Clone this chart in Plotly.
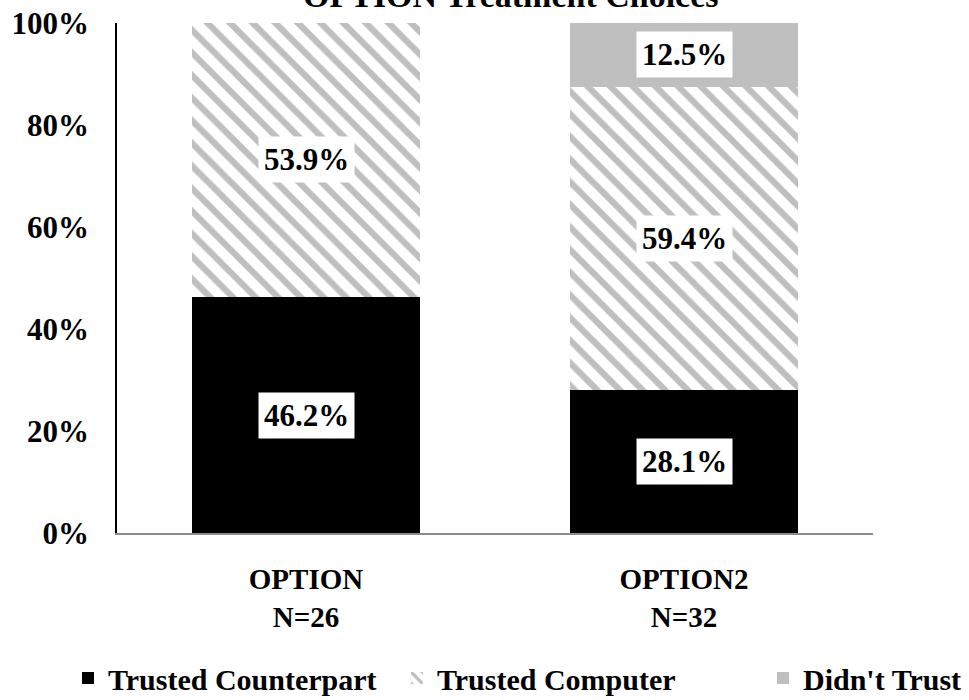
import plotly.graph_objects as go

categories = ["OPTION<br>N=26", "OPTION2<br>N=32"]
trusted_counterpart = [46.2, 28.1]
trusted_computer = [53.9, 59.4]
didnt_trust = [0.0, 12.5]
tick_vals = [0, 20, 40, 60, 80, 100]
tick_text = ["0%", "20%", "40%", "60%", "80%", "100%"]

FONT = "Liberation Serif, Times New Roman, serif"
W, H = 969, 700

fig = go.Figure()
fig.add_trace(go.Bar(
    x=categories, y=trusted_counterpart, name="Trusted Counterpart",
    marker=dict(color="black", line=dict(width=0)), legend="legend",
))
fig.add_trace(go.Bar(
    x=categories, y=trusted_computer, name="Trusted Computer",
    marker=dict(color="white", line=dict(width=0),
                pattern=dict(shape="\\", fgcolor="#808080", bgcolor="white",
                             size=16, solidity=0.4)),
    legend="legend2",
))
fig.add_trace(go.Bar(
    x=categories, y=didnt_trust, name="Didn't Trust",
    marker=dict(color="#bfbfbf", line=dict(width=0)), legend="legend3",
))

# value labels in white boxes, centred in each segment
series = [trusted_counterpart, trusted_computer, didnt_trust]
for i, cat in enumerate(categories):
    base = 0.0
    for vals in series:
        v = vals[i]
        if v > 0:
            fig.add_annotation(
                x=cat, y=base + v / 2, text=f"<b>{v:.1f}%</b>", showarrow=False,
                font=dict(family=FONT, size=31, color="black"),
                bgcolor="white", borderpad=5,
            )
        base += v

# chart title, running off the top edge of the page
fig.add_annotation(
    x=0.5, xref="paper", xshift=16, y=1, yref="paper", yshift=28, yanchor="middle",
    text="<b>OPTION Treatment Choices</b>", showarrow=False,
    font=dict(family=FONT, size=34, color="black"),
)

legend_font = dict(family=FONT, size=30, color="black", weight="bold")


def legend_box(left_px):
    return dict(
        orientation="h", x=left_px / W, xanchor="left", xref="container",
        y=22 / H, yref="container", yanchor="middle",
        font=legend_font, itemwidth=30, bgcolor="rgba(0,0,0,0)",
    )


fig.update_layout(
    width=W, height=H,
    margin=dict(l=117, r=96, t=23, b=167, autoexpand=False),
    barmode="stack", bargap=0.397,
    plot_bgcolor="white", paper_bgcolor="white",
    font=dict(family=FONT, color="black"),
    showlegend=True,
    legend=legend_box(68),
    legend2=legend_box(397),
    legend3=legend_box(763),
    xaxis=dict(
        showline=True, linecolor="#8c8c8c", linewidth=2, ticks="",
        tickfont=dict(family=FONT, size=29, color="black", weight="bold"),
        ticklabelstandoff=19,
    ),
    yaxis=dict(
        range=[0, 100], tickvals=tick_vals, ticktext=tick_text,
        showline=True, linecolor="black", linewidth=1.5, showgrid=False,
        zeroline=False, ticks="",
        tickfont=dict(family=FONT, size=31, color="black", weight="bold"),
        ticklabelstandoff=20,
    ),
)

fig.write_html("out.html")
